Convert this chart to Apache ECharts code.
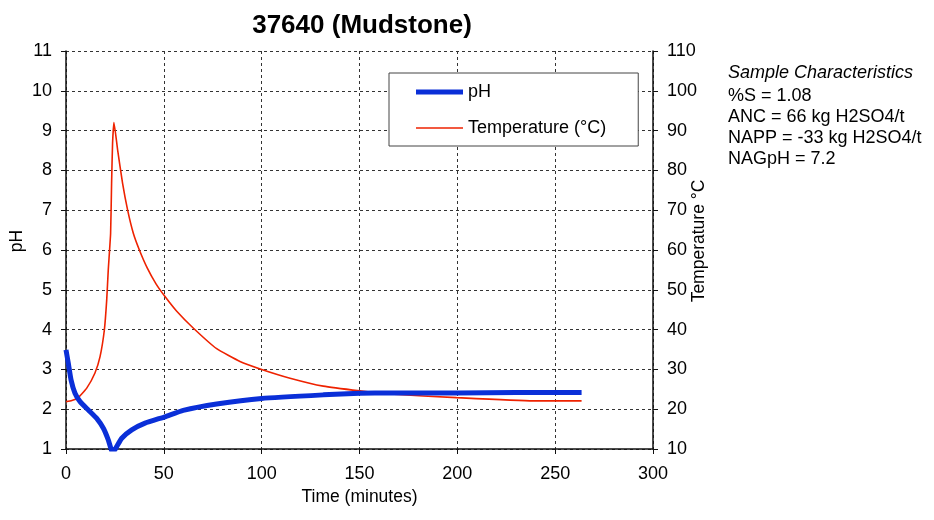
<!DOCTYPE html>
<html><head><meta charset="utf-8">
<script src="https://cdn.jsdelivr.net/npm/echarts@6/dist/echarts.min.js"></script>
<style>html,body{margin:0;padding:0;background:#fff}#c{width:934px;height:520px}</style>
</head><body><div id="c"></div>
<script>
const title = '37640 (Mudstone)';
const phTime = [0, 1.2, 2.6, 4.6, 7.2, 11.4, 15.7, 19.1, 21.6, 23.9, 25.9, 28.5, 33.6, 40.4, 50.6, 59.9, 77, 100, 131.5, 150, 165.6, 200, 230, 263.5];
const phValues = [3.49, 3.15, 2.73, 2.40, 2.19, 1.98, 1.77, 1.52, 1.23, 0.9, 1.06, 1.27, 1.48, 1.65, 1.81, 1.97, 2.13, 2.27, 2.36, 2.40, 2.41, 2.41, 2.42, 2.42];
const tempTime = [0, 3, 6, 10.6, 14.8, 17.4, 19.6, 20.8, 21.6, 22.8, 23.3, 23.8, 24.5, 26.4, 28.9, 31.5, 34.4, 37.5, 41.5, 46, 50.6, 56.6, 65, 77, 88.9, 100, 114.5, 131.5, 150.2, 165.6, 199.6, 238.8, 263.5];
const tempValues = [21.9, 22.2, 22.8, 25.3, 29.1, 33.2, 39.9, 47.4, 55, 64.2, 76.8, 86.8, 92, 85.1, 76.8, 70, 64.2, 60, 55.5, 51.5, 48.3, 44.6, 40.4, 35.2, 32, 30.0, 27.8, 25.8, 24.6, 23.8, 22.9, 22.1, 22.1];
const notes = ['%S = 1.08', 'ANC = 66 kg H2SO4/t', 'NAPP = -33 kg H2SO4/t', 'NAGpH = 7.2'];

const font = 'Arial, "Liberation Sans", sans-serif';
const chart = echarts.init(document.getElementById('c'));
const gridDash = {show: true, lineStyle: {color: '#333', type: [3, 3], width: 1}};
const axisLine = {show: true, lineStyle: {color: '#111', width: 1.5}};
const tick = {show: true, length: 5, lineStyle: {color: '#111'}};
chart.setOption({
  animation: false,
  textStyle: {fontFamily: font},
  title: {text: title, left: 357, textAlign: 'center', top: 8,
    textStyle: {fontSize: 26, fontWeight: 'bold', color: '#000', fontFamily: font}},
  grid: {left: 66, right: 281, top: 51, bottom: 71, show: false, containLabel: false, outerBoundsMode: 'none'},
  legend: {
    orient: 'vertical', left: 389, top: 73,
    padding: [10, 32, 9, 27], itemGap: 18, itemWidth: 47, itemHeight: 18,
    borderColor: '#444', borderWidth: 1, backgroundColor: '#fff',
    textStyle: {fontSize: 18, color: '#000', fontFamily: font},
    data: [
      {name: 'pH', icon: 'path://M0,0h47v5h-47z', itemStyle: {color: '#0a2fd8'}},
      {name: 'Temperature (°C)', icon: 'path://M0,0h47v1.6h-47z', itemStyle: {color: '#ee2200'}}
    ]
  },
  xAxis: {
    type: 'value', min: 0, max: 300, interval: 50,
    name: 'Time (minutes)', nameLocation: 'middle', nameGap: 39, nameMoveOverlap: false,
    nameTextStyle: {fontSize: 17.5, color: '#000'},
    axisLine: axisLine, axisTick: tick,
    axisLabel: {fontSize: 18, color: '#000', margin: 16},
    splitLine: gridDash
  },
  yAxis: [{
    type: 'value', min: 1, max: 11, interval: 1,
    name: 'pH', nameLocation: 'middle', nameGap: 40, nameRotate: 90, nameMoveOverlap: false,
    nameTextStyle: {fontSize: 17.5, color: '#000', padding: [0, 0, 0, 18]},
    axisLine: axisLine, axisTick: tick,
    axisLabel: {fontSize: 18, color: '#000', margin: 14},
    splitLine: gridDash
  }, {
    type: 'value', min: 10, max: 110, interval: 10, position: 'right',
    name: 'Temperature °C', nameLocation: 'middle', nameGap: 37, nameRotate: 90, nameMoveOverlap: false,
    nameTextStyle: {fontSize: 17.5, color: '#000', padding: [0, 0, 0, 18]},
    axisLine: axisLine, axisTick: tick,
    axisLabel: {fontSize: 18, color: '#000', margin: 14},
    splitLine: {show: false}
  }],
  graphic: [{
    type: 'text', left: 728, top: 64,
    style: {text: 'Sample Characteristics', font: 'italic 18px ' + font, fill: '#000'}
  }, {
    type: 'text', left: 728, top: 86,
    style: {text: notes.join('\n'), font: '18px ' + font, lineHeight: 21, fill: '#000'}
  }],
  series: [{
    name: 'Temperature (°C)', type: 'line', yAxisIndex: 1, symbol: 'none', smooth: 0.15,
    data: tempTime.map((t, i) => [t, tempValues[i]]),
    lineStyle: {color: '#ee2200', width: 1.6}, itemStyle: {color: '#ee2200'}, z: 2
  }, {
    name: 'pH', type: 'line', yAxisIndex: 0, symbol: 'none', smooth: 0.15,
    data: phTime.map((t, i) => [t, phValues[i]]),
    lineStyle: {color: '#0a2fd8', width: 5}, itemStyle: {color: '#0a2fd8'}, z: 3
  }]
});
</script></body></html>
